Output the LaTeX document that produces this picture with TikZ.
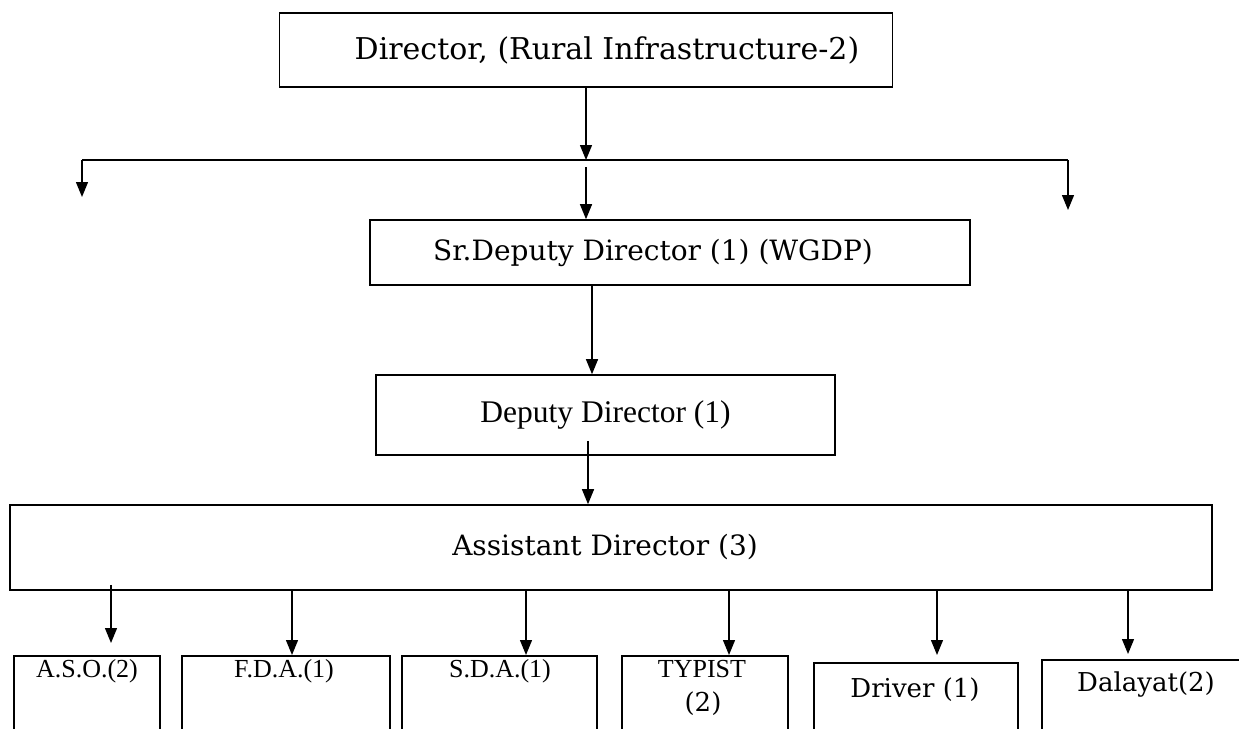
\documentclass[tikz,border=0pt]{standalone}
\usepackage{fontspec}
\setmainfont{DejaVu Serif}
\newfontfamily\timesfont{Liberation Serif}
\usetikzlibrary{arrows.meta}

\begin{document}
\begin{tikzpicture}[x=1pt, y=-1pt,
    box/.style={draw, line width=1.6pt, inner sep=0pt},
    arr/.style={line width=1.3pt, -{Triangle[length=15pt,width=12pt]}},
    big/.style={font=\fontsize{30}{36}\selectfont},
    mid/.style={font=\fontsize{28}{34}\selectfont},
    low/.style={font=\fontsize{26}{31}\selectfont},
    tms/.style={font=\timesfont\fontsize{31.5}{37}\selectfont},
    sml/.style={font=\timesfont\fontsize{26}{31}\selectfont}]
    % page
    \useasboundingbox (0,0) rectangle (1239,728);
    \clip (0,0) rectangle (1239,728);

    % upper boxes
    \node[box, big, minimum width=613, minimum height=74] (dir) at (586,50)
    {\hspace*{42pt}Director, (Rural Infrastructure-2)};
    \node[box, mid, minimum width=600, minimum height=65] (srdd) at (670,252.5)
    {Sr.Deputy Director (1) (WGDP)\hspace*{34pt}};
    \node[box, tms, minimum width=459, minimum height=80] (dd) at (605.5,415)
    {Deputy Director (1)};
    \node[box, mid, minimum width=1202, minimum height=85] (ad) at (611,547.5)
    {Assistant Director (3)\hspace*{12pt}};

    % lower boxes (cut by the page edge)
    \node[box, anchor=north, minimum width=146, minimum height=100] (aso) at (87,655) {};
    \node[box, anchor=north, minimum width=208, minimum height=100] (fda) at (286,655) {};
    \node[box, anchor=north, minimum width=195, minimum height=100] (sda) at (499.5,655) {};
    \node[box, anchor=north, minimum width=166, minimum height=100] (typist) at (705,655) {};
    \node[box, anchor=north, minimum width=204, minimum height=100] (driver) at (916,662) {};
    \node[box, anchor=north, minimum width=203, minimum height=100] (dalayat) at (1143.5,659) {};

    % labels of the lower boxes
    \node[sml] (asol) at (87,671) {A.S.O.(2)};
    \node[sml] (fdal) at (284,671) {F.D.A.(1)};
    \node[sml] (sdal) at (500,671) {S.D.A.(1)};
    \node[sml] (typl) at (702,669) {TYPIST};
    \node[low] (typn) at (703,704) {(2)};
    \node[low] (drvl) at (915,690) {Driver (1)};
    \node[low] (dall) at (1146,685) {Dalayat(2)};

    % branch under the director
    \coordinate (br) at (586,160);
    \coordinate (bl) at (82,160);
    \coordinate (bbr) at (1068,160);
    \coordinate (lt) at (82,197);
    \coordinate (rt) at (1068,210);
    \draw[arr] (dir.south) -- (br);
    \draw[line width=1.3pt] (bl) -- (bbr);
    \draw[arr] (bl) -- (lt);
    \draw[arr] (bbr) -- (rt);
    \draw[arr] ([yshift=-7pt]br) -- (br |- srdd.north);

    % down the chain
    \draw[arr] ([xshift=-78pt]srdd.south) -- ([xshift=-78pt]srdd.south |- dd.north);
    \draw[arr] ([xshift=-17.5pt,yshift=15pt]dd.south) -- ([xshift=-17.5pt]dd.south |- ad.north);

    % assistant director to the staff
    \foreach \b/\x/\s/\g in {aso/111/-6/12, fda/292/0/0, sda/526/0/0,
      typist/729/0/0, driver/937/0/7, dalayat/1128/0/5}
      \draw[arr, shorten <=\s pt, shorten >=\g pt] (ad.south -| \x,0) -- (\b.north -| \x,0);
  \end{tikzpicture}
\end{document}
